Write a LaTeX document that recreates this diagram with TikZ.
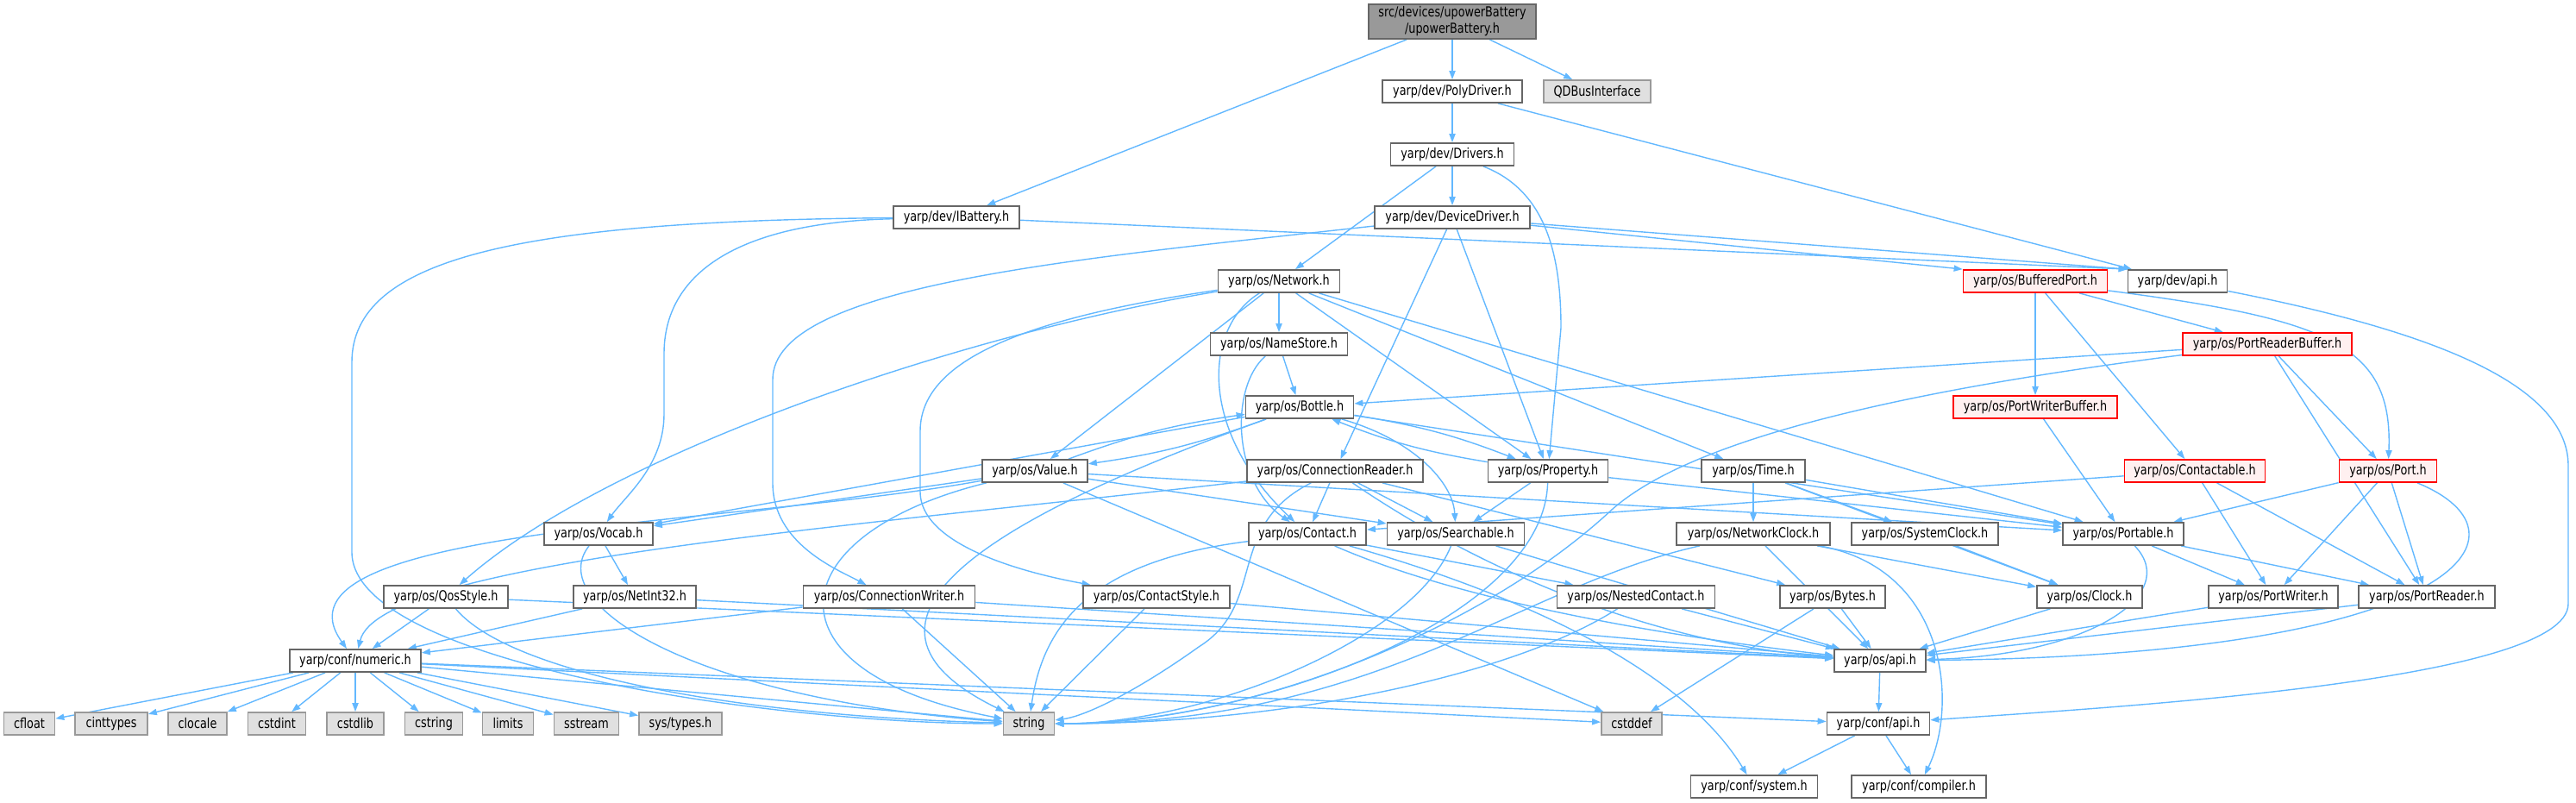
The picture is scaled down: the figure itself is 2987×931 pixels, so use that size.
\documentclass[tikz,border=0pt]{standalone}
\usepackage{fontspec}
\setmainfont{DejaVu Sans}[FakeStretch=0.8]
\usetikzlibrary{arrows.meta,backgrounds}
\definecolor{edgeblue}{HTML}{63B8FF}
\definecolor{boxline}{HTML}{666666}
\definecolor{sysfill}{HTML}{E0E0E0}
\definecolor{sysline}{HTML}{999999}
\definecolor{redfill}{HTML}{FFF0F0}
\definecolor{rootfill}{HTML}{999999}

\begin{document}
\begin{tikzpicture}[x=0.5pt,y=-0.5pt,
    hdr/.style={draw=boxline,fill=white,line width=0.9pt,minimum height=13pt,inner sep=0pt,font=\fontsize{8}{9.5}\selectfont},
    syshdr/.style={hdr,draw=sysline,fill=sysfill},
    redhdr/.style={hdr,draw=red,fill=redfill},
    roothdr/.style={hdr,fill=rootfill,minimum height=20pt,align=center},
    bw/.style={minimum width=#1*0.5pt},
    dep/.style={draw=edgeblue,line width=0.7pt,-{Triangle[length=5pt,width=3.6pt]}}]
        \useasboundingbox (0,0) rectangle (2987,931);

        % --- HEADERS, TOP TO BOTTOM ---
        \node[roothdr,bw=194] (root) at (1684,25) {src/devices/upowerBattery\\/upowerBattery.h};

        \node[hdr,bw=162] (polydrv) at (1684,106) {yarp/dev/PolyDriver.h};
        \node[syshdr,bw=124] (qdbus) at (1852,106) {QDBusInterface};

        \node[hdr,bw=143] (drivers) at (1684,179) {yarp/dev/Drivers.h};

        \node[hdr,bw=146] (ibattery) at (1109,252) {yarp/dev/IBattery.h};
        \node[hdr,bw=180] (devdrv) at (1684,252) {yarp/dev/DeviceDriver.h};

        \node[hdr,bw=141] (network) at (1483,326) {yarp/os/Network.h};
        \node[redhdr,bw=167] (bufport) at (2360,326) {yarp/os/BufferedPort.h};
        \node[hdr,bw=115] (devapi) at (2525,326) {yarp/dev/api.h};

        \node[hdr,bw=159] (namestore) at (1483,399) {yarp/os/NameStore.h};
        \node[redhdr,bw=196] (prbuf) at (2629,399) {yarp/os/PortReaderBuffer.h};

        \node[hdr,bw=125] (bottle) at (1507,472) {yarp/os/Bottle.h};
        \node[redhdr,bw=190] (pwbuf) at (2360,472) {yarp/os/PortWriterBuffer.h};

        \node[hdr,bw=122] (value) at (1200,546) {yarp/os/Value.h};
        \node[hdr,bw=204] (connreader) at (1548,546) {yarp/os/ConnectionReader.h};
        \node[hdr,bw=139] (property) at (1795,546) {yarp/os/Property.h};
        \node[hdr,bw=120] (time) at (2033,546) {yarp/os/Time.h};
        \node[redhdr,bw=163] (contactable) at (2545,546) {yarp/os/Contactable.h};
        \node[redhdr,bw=113] (port) at (2769,546) {yarp/os/Port.h};

        \node[hdr,bw=126] (vocab) at (694,619) {yarp/os/Vocab.h};
        \node[hdr,bw=136] (contact) at (1516,619) {yarp/os/Contact.h};
        \node[hdr,bw=159] (searchable) at (1688,619) {yarp/os/Searchable.h};
        \node[hdr,bw=178] (netclock) at (2033,619) {yarp/os/NetworkClock.h};
        \node[hdr,bw=170] (sysclock) at (2232,619) {yarp/os/SystemClock.h};
        \node[hdr,bw=140] (portable) at (2462,619) {yarp/os/Portable.h};

        \node[hdr,bw=144] (qosstyle) at (517,692) {yarp/os/QosStyle.h};
        \node[hdr,bw=142] (netint32) at (736,692) {yarp/os/NetInt32.h};
        \node[hdr,bw=199] (connwriter) at (1031,692) {yarp/os/ConnectionWriter.h};
        \node[hdr,bw=170] (contactstyle) at (1341,692) {yarp/os/ContactStyle.h};
        \node[hdr,bw=183] (nestedcontact) at (1897,692) {yarp/os/NestedContact.h};
        \node[hdr,bw=122] (bytes) at (2125,692) {yarp/os/Bytes.h};
        \node[hdr,bw=122] (clock) at (2423,692) {yarp/os/Clock.h};
        \node[hdr,bw=150] (portwriter) at (2636,692) {yarp/os/PortWriter.h};
        \node[hdr,bw=158] (portreader) at (2814,692) {yarp/os/PortReader.h};

        \node[hdr,bw=152] (numeric) at (412,766) {yarp/conf/numeric.h};
        \node[hdr,bw=106] (osapi) at (2180,766) {yarp/os/api.h};

        \node[syshdr,bw=59] (cfloat) at (34,839) {cfloat};
        \node[syshdr,bw=84] (cinttypes) at (129,839) {cinttypes};
        \node[syshdr,bw=68] (clocale) at (229,839) {clocale};
        \node[syshdr,bw=67] (cstdint) at (321,839) {cstdint};
        \node[syshdr,bw=66] (cstdlib) at (412,839) {cstdlib};
        \node[syshdr,bw=67] (cstring) at (503,839) {cstring};
        \node[syshdr,bw=59] (limits) at (589,839) {limits};
        \node[syshdr,bw=75] (sstream) at (680,839) {sstream};
        \node[syshdr,bw=96] (systypes) at (789,839) {sys/types.h};
        \node[syshdr,bw=59] (string) at (1193,839) {string};
        \node[syshdr,bw=70] (cstddef) at (1892,839) {cstddef};
        \node[hdr,bw=119] (confapi) at (2178,839) {yarp/conf/api.h};

        \node[hdr,bw=147] (system) at (2034,912) {yarp/conf/system.h};
        \node[hdr,bw=156] (compiler) at (2225,912) {yarp/conf/compiler.h};

        % --- INCLUDE EDGES ---
        \begin{pgfonlayer}{background}
        \foreach \a/\b in {root/ibattery,root/polydrv,root/qdbus,polydrv/drivers,polydrv/devapi,
            drivers/network,drivers/devdrv,
            devdrv/connreader,devdrv/property,
            network/namestore,network/value,network/property,network/time,network/portable,
            namestore/bottle,bottle/portable,bottle/vocab,
            value/vocab,value/searchable,value/portable,value/cstddef,
            property/searchable,property/portable,
            connreader/contact,connreader/searchable,connreader/bytes,
            bufport/pwbuf,bufport/prbuf,bufport/contactable,
            prbuf/bottle,prbuf/port,prbuf/portreader,pwbuf/portable,
            contactable/contact,contactable/portwriter,contactable/portreader,
            port/portable,port/portwriter,port/portreader,
            time/netclock,time/sysclock,time/clock,time/portable,
            netclock/clock,netclock/osapi,sysclock/clock,clock/osapi,
            portable/portwriter,portable/portreader,portwriter/osapi,portreader/osapi,
            contact/nestedcontact,searchable/osapi,nestedcontact/osapi,
            contactstyle/osapi,contactstyle/string,
            connwriter/string,connwriter/numeric,connwriter/osapi,
            bytes/cstddef,bytes/osapi,vocab/netint32,
            netint32/numeric,netint32/osapi,qosstyle/numeric,qosstyle/osapi,
            numeric/cfloat,numeric/cinttypes,numeric/clocale,numeric/cstdint,numeric/cstdlib,
            numeric/cstring,numeric/limits,numeric/sstream,numeric/systypes,
            numeric/string,numeric/cstddef,numeric/confapi,
            osapi/confapi,confapi/system,confapi/compiler}
            \draw[dep] (\a) -- (\b);

        % edges meeting the top left corners
        \draw[dep] (ibattery) -- (devapi.north west);
        \draw[dep] (devdrv) -- (devapi.north west);
        \draw[dep] (devdrv) -- (bufport.north west);

        % mutual includes
        \draw[dep] (bottle) to[bend left=6] (value);
        \draw[dep] (value) to[bend left=6] (bottle);
        \draw[dep] (bottle) to[bend left=6] (property);
        \draw[dep] (property) to[bend left=6] (bottle);

        % long routed edges
        \draw[dep] (ibattery) .. controls (600,256) and (408,300) .. (408,420) -- (408,640) .. controls (408,770) and (900,839) .. (string);
        \draw[dep] (ibattery) .. controls (850,258) and (770,320) .. (770,410) -- (770,480) .. controls (770,540) and (725,575) .. (vocab);
        \draw[dep] (devdrv) .. controls (1250,300) and (896,330) .. (896,440) -- (896,560) .. controls (896,630) and (970,660) .. (connwriter);
        \draw[dep] (devapi) .. controls (2800,380) and (2978,440) .. (2978,540) -- (2978,700) .. controls (2978,790) and (2450,820) .. (confapi);
        \draw[dep] (network) .. controls (1180,370) and (1067,420) .. (1067,500) -- (1067,570) .. controls (1067,640) and (1220,670) .. (contactstyle);
        \draw[dep] (network) .. controls (1100,390) and (700,530) .. (qosstyle);
        \draw[dep] (network) .. controls (1395,380) and (1390,500) .. (contact);
        \draw[dep] (namestore) .. controls (1425,450) and (1430,560) .. (contact);
        \draw[dep] (bottle) .. controls (1640,510) and (1685,560) .. (searchable);
        \draw[dep] (drivers) .. controls (1790,220) and (1810,290) .. (1810,380) -- (property);
        \draw[dep] (port) .. controls (2950,620) and (2850,760) .. (osapi);
        \draw[dep] (portable) .. controls (2530,690) and (2420,760) .. (osapi);
        \draw[dep] (bufport) .. controls (2700,370) and (2775,400) .. (port);
        \draw[dep] (prbuf) .. controls (2150,460) and (1950,520) .. (1870,590) .. controls (1720,730) and (1450,839) .. (string);
        \draw[dep] (connreader) .. controls (1420,610) and (1470,700) .. (1390,750) .. controls (1320,800) and (1260,830) .. (string);
        \draw[dep] (connreader) .. controls (1700,650) and (1900,745) .. (osapi);
        \draw[dep] (contact) .. controls (1700,700) and (1950,740) .. (osapi);
        \draw[dep] (contact) .. controls (1270,650) and (1210,720) .. (string);
        \draw[dep] (searchable) .. controls (1640,740) and (1400,839) .. (string);
        \draw[dep] (property) .. controls (1790,720) and (1450,839) .. (string);
        \draw[dep] (nestedcontact) .. controls (1760,780) and (1500,839) .. (string);
        \draw[dep] (netclock) .. controls (1760,680) and (1600,839) .. (string);
        \draw[dep] (vocab) .. controls (630,700) and (800,810) .. (string);
        \draw[dep] (qosstyle) .. controls (590,780) and (850,830) .. (string);
        \draw[dep] (value) .. controls (900,620) and (880,780) .. (string);
        \draw[dep] (bottle) .. controls (1150,600) and (950,720) .. (string);
        \draw[dep] (value) .. controls (850,610) and (300,610) .. (numeric);
        \draw[dep] (connreader) .. controls (1000,610) and (440,650) .. (numeric);
        \draw[dep] (netclock) .. controls (2260,660) and (2270,820) .. (compiler);
        \draw[dep] (contact) .. controls (1800,700) and (1960,790) .. (system);
        \end{pgfonlayer}
    \end{tikzpicture}
\end{document}
